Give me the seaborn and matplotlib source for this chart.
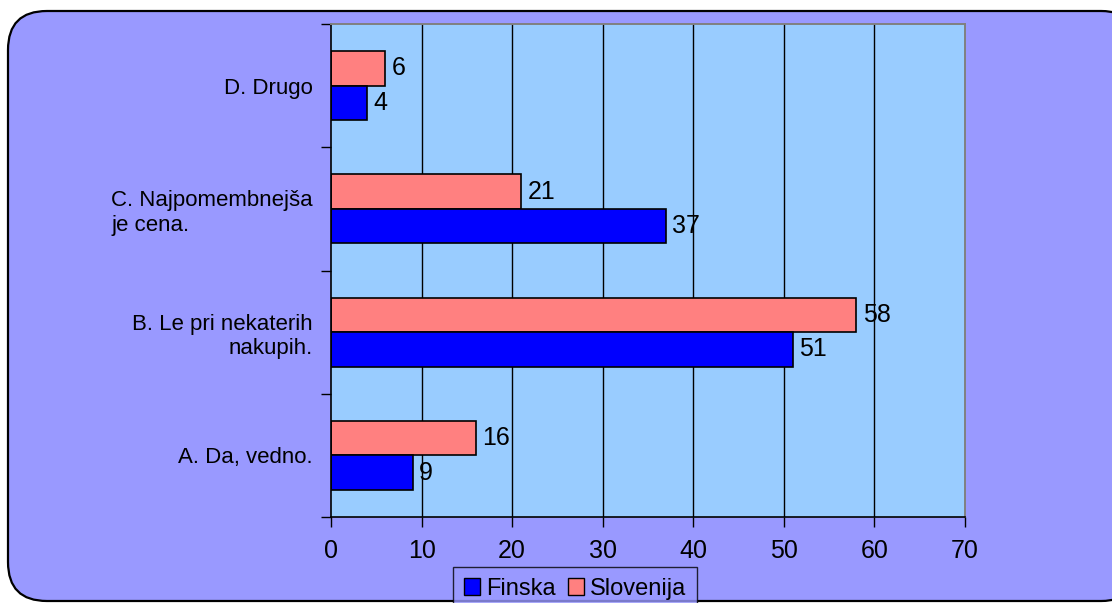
import matplotlib
matplotlib.use("Agg")
import matplotlib.pyplot as plt
from matplotlib.patches import FancyBboxPatch, Patch
from matplotlib.ticker import FixedLocator
import seaborn as sns
import pandas as pd

# Survey answers (percent of respondents)
categories = ["D. Drugo", "C. Najpomembnejša\nje cena.", "B. Le pri nekaterih\nnakupih.", "A. Da, vedno."]
finska = [4, 37, 51, 9]
slovenija = [6, 21, 58, 16]
series_names = ["Finska", "Slovenija"]
x_ticks = [0, 10, 20, 30, 40, 50, 60, 70]

colors = {"Finska": "#0000FF", "Slovenija": "#FF8080"}
frame_color = "#9999FF"
plot_color = "#99CCFF"

df = pd.DataFrame({
    "kategorija": categories * 2,
    "vrednost": finska + slovenija,
    "drzava": ["Finska"] * len(categories) + ["Slovenija"] * len(categories),
})

sns.set_theme(style="white")
plt.rcParams["font.family"] = ["Liberation Sans", "DejaVu Sans"]
plt.rcParams["text.color"] = "black"
plt.rcParams["xtick.color"] = "black"
plt.rcParams["ytick.color"] = "black"
plt.rcParams["axes.labelcolor"] = "black"

W, H = 1112, 603
fig = plt.figure(figsize=(W / 100, H / 100), dpi=100)
fig.patch.set_facecolor("white")

# Rounded chart-area frame, drawn behind the axes
frame = FancyBboxPatch((8 / W, 1 - 601 / H), (W + 20) / W, (601 - 11) / H,
                       boxstyle="round,pad=0,rounding_size=0.035",
                       transform=fig.transFigure, facecolor=frame_color,
                       edgecolor="black", linewidth=1.6, mutation_aspect=W / H,
                       zorder=-10)
fig.patches.append(frame)

ax = fig.add_axes([331 / W, 1 - 517 / H, (965 - 331) / W, (517 - 24) / H])
ax.set_zorder(1)
ax.set_facecolor(plot_color)

sns.barplot(data=df, y="kategorija", x="vrednost", hue="drzava",
            hue_order=["Slovenija", "Finska"], order=categories,
            palette=colors, orient="h", width=0.56, ax=ax,
            edgecolor="black", linewidth=1.2, saturation=1, legend=False)

ax.set_xlim(0, 70)
ax.set_ylim(len(categories) - 0.5, -0.5)
ax.set_xlabel("")
ax.set_ylabel("")

# Gridlines
ax.set_xticks(x_ticks)
ax.set_xticklabels([str(t) for t in x_ticks])
for t in x_ticks[1:-1]:
    ax.axvline(t, color="black", linewidth=1.0, zorder=0.5)

# Spines
for side in ["left", "bottom"]:
    ax.spines[side].set_color("black")
    ax.spines[side].set_linewidth(1.2)
for side in ["top", "right"]:
    ax.spines[side].set_color("#808080")
    ax.spines[side].set_linewidth(1.4)

# Category boundaries as tick marks, labels without marks
ax.yaxis.set_minor_locator(FixedLocator([i - 0.5 for i in range(len(categories) + 1)]))
ax.tick_params(axis="y", which="major", length=0, pad=13, labelsize=16)
ax.tick_params(axis="y", which="minor", left=True, length=7, width=1, color="black", direction="out")
ax.tick_params(axis="x", which="major", bottom=True, length=7, width=1, color="black",
                direction="out", pad=9, labelsize=18)

for lab, align in zip(ax.get_yticklabels(), ["right", "left", "right", "right"]):
    lab.set_multialignment(align)

# Value labels at bar ends
for container in ax.containers:
    ax.bar_label(container, padding=4.5, fontsize=18, color="black")

# Legend
handles = [Patch(facecolor=colors[n], edgecolor="black", linewidth=1) for n in series_names]
leg = fig.legend(handles, series_names, loc="upper center",
                 bbox_to_anchor=(575 / W, 1 - 567 / H), ncol=2, frameon=True,
                 fontsize=17, handlelength=0.7, handleheight=0.7,
                 handletextpad=0.25, columnspacing=0.5, borderpad=0.45,
                 borderaxespad=0, fancybox=False)
leg.get_frame().set_facecolor(frame_color)
leg.get_frame().set_edgecolor("black")
leg.get_frame().set_linewidth(1.0)

fig.savefig("out.png", dpi=100)
